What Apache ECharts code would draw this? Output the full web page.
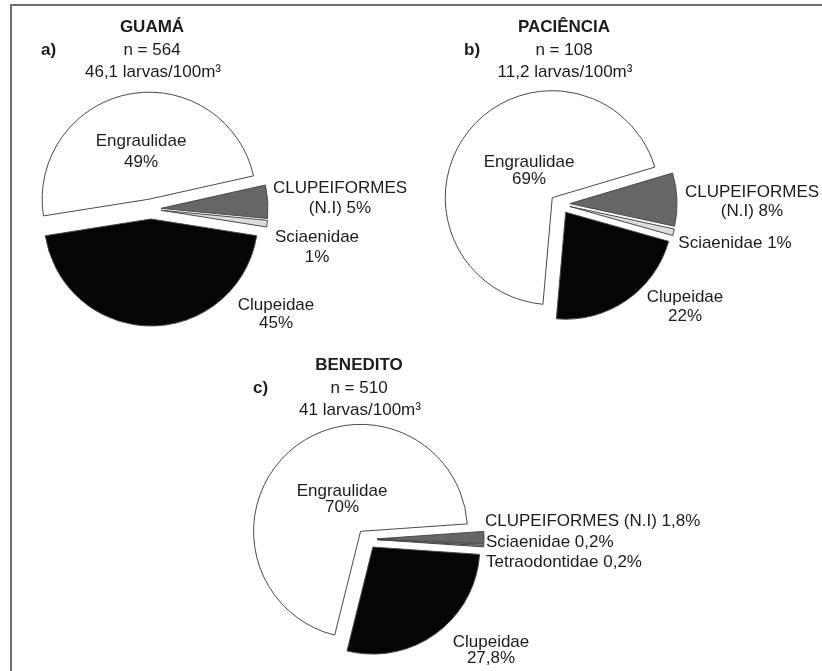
<!DOCTYPE html>
<html>
<head>
<meta charset="utf-8">
<script src="https://cdn.jsdelivr.net/npm/echarts@6/dist/echarts.min.js"></script>
<style>
  html, body { margin: 0; padding: 0; background: #fff; }
  #chart { width: 822px; height: 671px; }
</style>
</head>
<body>
<div id="chart"></div>
<script>
// station info
var sites = ['GUAMÁ', 'PACIÊNCIA', 'BENEDITO'];
var panels = ['a)', 'b)', 'c)'];
var totals = [564, 108, 510];
var densities = [46.1, 11.2, 41];

// family shares (%)
var guamaNames = ['Engraulidae', 'CLUPEIFORMES (N.I)', 'Sciaenidae', 'Clupeidae'];
var guamaValues = [49, 5, 1, 45];
var pacienciaNames = ['Engraulidae', 'CLUPEIFORMES (N.I)', 'Sciaenidae', 'Clupeidae'];
var pacienciaValues = [69, 8, 1, 22];
var beneditoNames = ['Engraulidae', 'CLUPEIFORMES (N.I)', 'Sciaenidae', 'Tetraodontidae', 'Clupeidae'];
var beneditoValues = [70, 1.8, 0.2, 0.2, 27.8];

var fills = {
    'Engraulidae': '#ffffff',
    'CLUPEIFORMES (N.I)': '#666666',
    'Sciaenidae': '#dddddd',
    'Tetraodontidae': '#b5b5b5',
    'Clupeidae': '#050505'
};
var FONT = '"Liberation Sans", Arial, sans-serif';
var INK = '#1c1c1c';

// where each pie sits and where its labels go: [x, y, align, lineHeight, wrap]
var pies = [
    {names: guamaNames, values: guamaValues, center: [151, 209], start: 189,
     head: {x: 152, y: 27, px: 41},
     labels: [[141, 152, 'center', 21, true], [340, 198, 'center', 20, true],
              [317, 247, 'center', 20, true], [276, 314, 'center', 18, true]]},
    {names: pacienciaNames, values: pacienciaValues, center: [560, 204], start: 265,
     head: {x: 564, y: 27, px: 464},
     labels: [[529, 171, 'center', 17, true], [752, 202, 'center', 19, true],
              [735, 243, 'center', 19, false], [685, 307, 'center', 19, true]]},
    {names: beneditoNames, values: beneditoValues, center: [367, 539], start: 256,
     head: {x: 359, y: 365, px: 253},
     labels: [[342, 499, 'center', 16, true], [485, 521, 'left', 18, false],
              [486, 542, 'left', 18, false], [486, 562, 'left', 18, false],
              [491, 650, 'center', 16, true]]}
];

function fmt(v) { return String(v).replace('.', ','); }

var chart = echarts.init(document.getElementById('chart'));

var series = pies.map(function (p) {
    return {
        type: 'pie',
        center: p.center,
        radius: 107,
        startAngle: p.start,
        clockwise: true,
        selectedMode: 'multiple',
        selectedOffset: 10,
        emphasis: {disabled: true},
        itemStyle: {borderColor: '#4a4a4a', borderWidth: 1},
        label: {show: false},
        labelLine: {show: false},
        data: p.names.map(function (n, i) {
            return {name: n, value: p.values[i], selected: true, itemStyle: {color: fills[n]}};
        })
    };
});

var graphics = [
    {type: 'line', shape: {x1: 10, y1: 5, x2: 822, y2: 5}, style: {stroke: '#707070', lineWidth: 2}},
    {type: 'line', shape: {x1: 11, y1: 5, x2: 11, y2: 671}, style: {stroke: '#707070', lineWidth: 2}}
];
function txt(s, x, y, align, bold, lh) {
    return {type: 'text', z: 10, style: {text: s, x: x, y: y, align: align, verticalAlign: 'middle',
        font: (bold ? 'bold ' : '') + '17px ' + FONT, fill: INK, lineHeight: lh || 20}};
}
pies.forEach(function (p, i) {
    var h = p.head;
    graphics.push(
        txt(sites[i], h.x, h.y, 'center', true),
        txt(panels[i], h.px, h.y + 23, 'left', true),
        txt('n = ' + totals[i], h.x, h.y + 23, 'center'),
        txt(fmt(densities[i]) + ' larvas/100m³', h.x + 1, h.y + 45, 'center')
    );
    p.names.forEach(function (n, j) {
        var l = p.labels[j];
        var s = n + ' ' + fmt(p.values[j]) + '%';
        if (l[4]) s = s.replace(' ', '\n');
        graphics.push(txt(s, l[0], l[1], l[2], false, l[3]));
    });
});

chart.setOption({
    backgroundColor: '#ffffff',
    animation: false,
    graphic: graphics,
    series: series
});
</script>
</body>
</html>
